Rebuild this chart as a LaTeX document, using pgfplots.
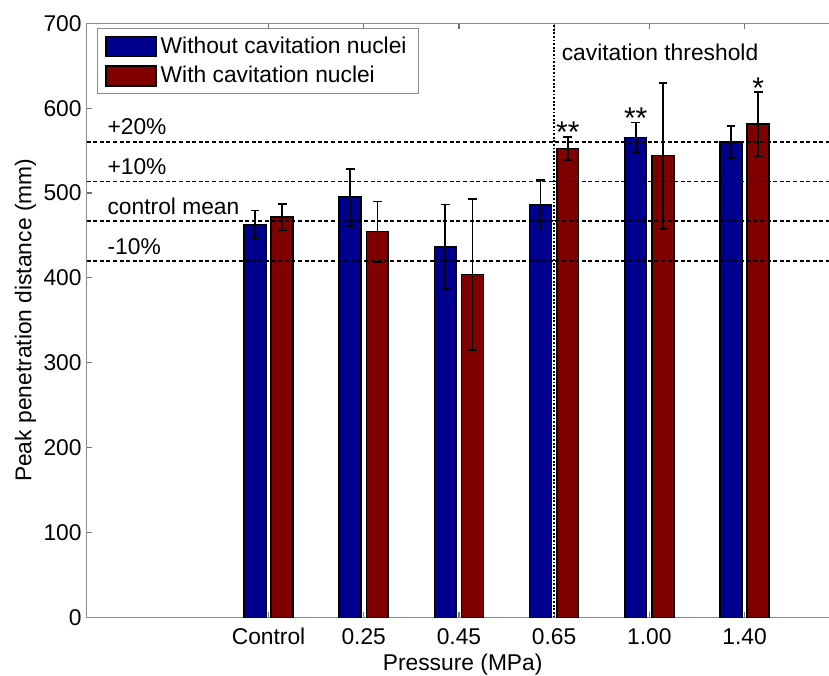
\documentclass[border=0pt]{standalone}
\usepackage{fontspec}
\setmainfont{Liberation Sans}
\usepackage{pgfplots}
\pgfplotsset{compat=1.18}
\usepackage{pgfplotstable}

\definecolor{barBlue}{RGB}{0,0,143}
\definecolor{barRed}{RGB}{128,0,0}
\colorlet{axisGray}{black!45}
\colorlet{tickGray}{black!55}
\newcommand{\lblfont}{\fontsize{11.4}{13.7}\selectfont}
\newcommand{\starfont}{\fontsize{15}{18}\selectfont}

\pgfplotsset{
  barlegend/.style={legend image code/.code={
    \draw[##1,/tikz/.cd,draw=black,line width=0.7pt] (0pt,-5pt) rectangle (25pt,5pt);}},
  refline/.style={black, line width=0.9pt, dash pattern=on 2pt off 1.3pt, forget plot},
  errstyle/.style={error bars/.cd, y dir=both, y explicit,
    error bar style={black, line width=0.85pt},
    error mark options={black, rotate=90, mark size=2.2pt, line width=0.85pt}},
}

% mean peak distance and error half-width per pressure
\pgfplotstableread{
x   blue   blueerr  red    rederr
1   463    16.5     471.5  15.5
2   495    33.5     454.5  35.5
3   436.5  50       404    89
4   486    29       552.5  13.5
5   565.5  17.5     544    86
6   560    19       581    38
}\peakdata

\begin{document}
\begin{tikzpicture}
\useasboundingbox (-43.35pt,-28.85pt) rectangle (371.15pt,308.65pt);
\begin{axis}[
  at={(0pt,0pt)}, anchor=south west,
  scale only axis, width=373pt, height=297pt,
  xmin=-0.91, xmax=6.926, ymin=0, ymax=700,
  xtick={1,2,3,4,5,6},
  xticklabels={Control,0.25,0.45,0.65,1.00,1.40},
  ytick={0,100,200,300,400,500,600,700},
  axis line style={draw=axisGray, line width=0.6pt},
  tick align=inside, major tick length=2.6pt,
  xtick pos=both, ytick pos=left,
  tick style={draw=tickGray, line width=0.6pt},
  xticklabel style={font=\lblfont, text=black, anchor=base, yshift=-13.35pt},
  yticklabel style={font=\lblfont, text=black, anchor=east, inner sep=0pt, xshift=-2.35pt},
  /pgf/number format/assume math mode=true,
  xlabel={Pressure (MPa)},
  ylabel={Peak penetration distance (mm)},
  every axis x label/.style={at={(axis description cs:0.504,0)}, anchor=base, yshift=-26.35pt, font=\lblfont},
  every axis y label/.style={at={(axis description cs:-0.082,0.5)}, anchor=center, rotate=90, font=\lblfont},
  legend cell align=left,
  legend style={at={(axis description cs:0.0134,0.992)}, anchor=north west,
    draw=axisGray, line width=0.6pt, fill=white, font=\lblfont,
    inner xsep=4pt, inner ysep=2pt, row sep=1pt},
]
\addplot[ybar, bar width=0.229, bar shift=0pt, fill=barBlue, draw=black, line width=0.8pt, barlegend, errstyle]
  table[x expr=\thisrow{x}-0.143, y=blue, y error=blueerr] {\peakdata};
\addlegendentry{Without cavitation nuclei}
\addplot[ybar, bar width=0.229, bar shift=0pt, fill=barRed, draw=black, line width=0.8pt, barlegend, errstyle]
  table[x expr=\thisrow{x}+0.143, y=red, y error=rederr] {\peakdata};
\addlegendentry{With cavitation nuclei}

% control mean and +-10/20 % lines
\addplot[refline] coordinates {(-0.91,467) (6.926,467)};
\addplot[refline] coordinates {(-0.91,513.7) (6.926,513.7)};
\addplot[refline] coordinates {(-0.91,560.4) (6.926,560.4)};
\addplot[refline] coordinates {(-0.91,420.3) (6.926,420.3)};
% cavitation threshold
\addplot[black, line width=0.7pt, dash pattern=on 0.9pt off 0.9pt, forget plot] coordinates {(4,0) (4,700)};

\node[anchor=base west, inner sep=0pt, font=\lblfont] at (axis cs:-0.695,568.4) {+20\%};
\node[anchor=base west, inner sep=0pt, font=\lblfont] at (axis cs:-0.695,522) {+10\%};
\node[anchor=base west, inner sep=0pt, font=\lblfont] at (axis cs:-0.695,475) {control mean};
\node[anchor=base west, inner sep=0pt, font=\lblfont] at (axis cs:-0.695,427.8) {-10\%};
\node[anchor=base west, inner sep=0pt, font=\lblfont] at (axis cs:4.076,656) {cavitation threshold};

\node[anchor=base, inner sep=0pt, font=\starfont] at (axis cs:4.143,559) {**};
\node[anchor=base, inner sep=0pt, font=\starfont] at (axis cs:4.857,576.5) {**};
\node[anchor=base, inner sep=0pt, font=\starfont] at (axis cs:6.143,611.5) {*};
\end{axis}
\end{tikzpicture}
\end{document}
